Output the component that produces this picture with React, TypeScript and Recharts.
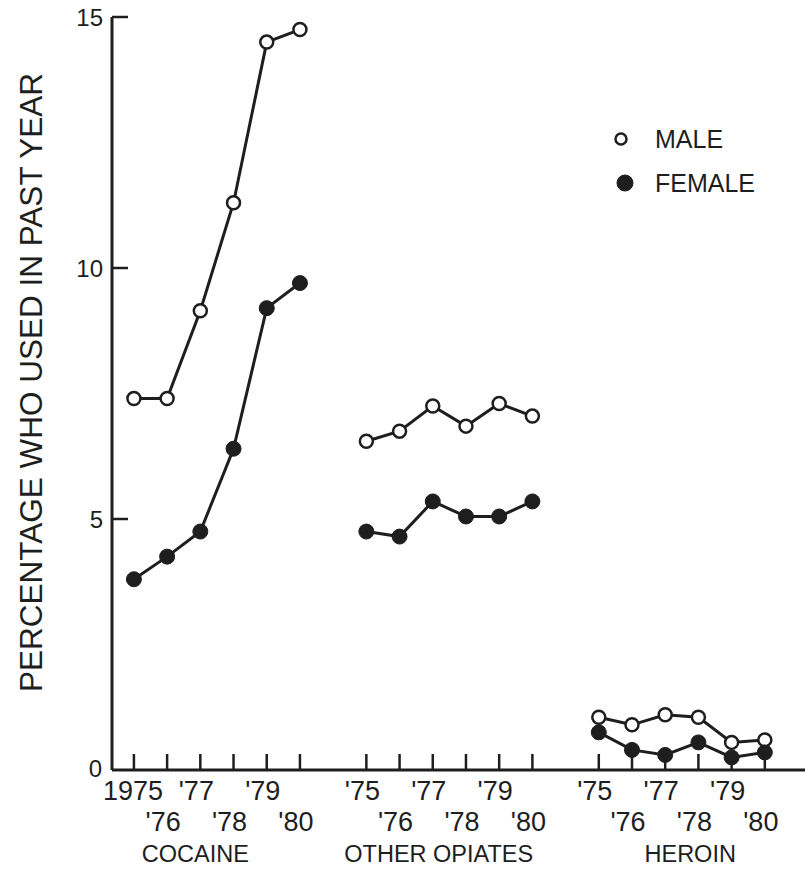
import React from 'react';
import { LineChart, Line, XAxis, YAxis, Legend } from 'recharts';

// years per drug group, the first group's first label is written in full
const yearLabels = ["'75", "'76", "'77", "'78", "'79", "'80"];
const firstYearLabel = '1975';
const groupNames = ['COCAINE', 'OTHER OPIATES', 'HEROIN'];
const yTicks = [0, 5, 10, 15];

// percentage who used in past year, 1975-1980
const maleCocaine = [7.4, 7.4, 9.15, 11.3, 14.5, 14.75];
const femaleCocaine = [3.8, 4.25, 4.75, 6.4, 9.2, 9.7];
const maleOpiates = [6.55, 6.75, 7.25, 6.85, 7.3, 7.05];
const femaleOpiates = [4.75, 4.65, 5.35, 5.05, 5.05, 5.35];
const maleHeroin = [1.05, 0.9, 1.1, 1.05, 0.55, 0.6];
const femaleHeroin = [0.75, 0.4, 0.3, 0.55, 0.25, 0.35];

const legendItems = [
  { label: 'MALE', filled: false },
  { label: 'FEMALE', filled: true },
];

const INK = '#1e1e1e';
const FONT = '"Liberation Sans", Arial, sans-serif';
const GROUP_STEP = 7; // six years plus a gap of one slot
const groupLabelShift = [-5, 6, 25];

const toRows = (values: number[], group: number) =>
  values.map((v, i) => ({ x: group * GROUP_STEP + i, v }));

const series = [
  { key: 'cocM', group: 0, values: maleCocaine, filled: false },
  { key: 'cocF', group: 0, values: femaleCocaine, filled: true },
  { key: 'opM', group: 1, values: maleOpiates, filled: false },
  { key: 'opF', group: 1, values: femaleOpiates, filled: true },
  { key: 'herM', group: 2, values: maleHeroin, filled: false },
  { key: 'herF', group: 2, values: femaleHeroin, filled: true },
];

const xTicks = groupNames.flatMap((_, g) => yearLabels.map((_, i) => g * GROUP_STEP + i));

const XTick = (props: any) => {
  const { x, y, payload } = props;
  const v = payload.value as number;
  const g = Math.floor(v / GROUP_STEP);
  const i = v % GROUP_STEP;
  const first = g === 0 && i === 0;
  const label = first ? firstYearLabel : yearLabels[i];
  return (
    <g>
      <line x1={x} x2={x} y1={y} y2={y - 16} stroke={INK} strokeWidth={2.5} />
      <text
        x={first ? x - 1 : x - 4}
        y={i % 2 === 0 ? y + 30 : y + 61}
        textAnchor="middle"
        fontSize={27}
        fontFamily={FONT}
        fill={INK}
      >
        {label}
      </text>
      {i === 2 && (
        <text
          x={x + groupLabelShift[g]}
          y={y + 92}
          textAnchor="middle"
          fontSize={23.5}
          fontFamily={FONT}
          fill={INK}
        >
          {groupNames[g]}
        </text>
      )}
    </g>
  );
};

const YTick = (props: any) => {
  const { x, y, payload } = props;
  const isZero = payload.value === 0;
  return (
    <g>
      {!isZero && <line x1={x} x2={x + 16} y1={y} y2={y} stroke={INK} strokeWidth={2.5} />}
      <text
        x={isZero ? x - 10 : x - 9}
        y={isZero ? y + 6.6 : y + 8.6}
        textAnchor="end"
        fontSize={24}
        fontFamily={FONT}
        fill={INK}
      >
        {payload.value}
      </text>
    </g>
  );
};

const YTitle = (props: any) => {
  const vb = props.viewBox || { x: 0, y: 17, width: 112, height: 753 };
  const cx = vb.x + 42;
  const cy = vb.y + vb.height / 2 - 11;
  return (
    <text
      x={cx}
      y={cy}
      transform={`rotate(-90 ${cx} ${cy})`}
      textAnchor="middle"
      fontSize={31.5}
      fontFamily={FONT}
      fill={INK}
    >
      PERCENTAGE WHO USED IN PAST YEAR
    </text>
  );
};

const LegendBox = () => (
  <div style={{ fontFamily: FONT, fontSize: 25, color: INK, lineHeight: '44px' }}>
    {legendItems.map((item) => (
      <div key={item.label} style={{ display: 'flex', alignItems: 'center' }}>
        <svg width={34} height={20} style={{ marginRight: 17 }}>
          <circle
            cx={item.filled ? 21 : 17}
            cy={10}
            r={item.filled ? 8 : 5.5}
            fill={item.filled ? INK : '#fff'}
            stroke={INK}
            strokeWidth={item.filled ? 1 : 2.5}
          />
        </svg>
        <span>{item.label}</span>
      </div>
    ))}
  </div>
);

export default function App() {
  return (
    <div style={{ position: 'absolute', left: 0, top: 0, background: '#fff' }}>
      <LineChart width={805} height={879} margin={{ top: 17, right: 0, bottom: 0, left: 0 }}>
        <XAxis
          type="number"
          dataKey="x"
          domain={[-0.66, 20.21]}
          ticks={xTicks}
          interval={0}
          height={109}
          tickSize={0}
          tickMargin={0}
          tickLine={false}
          tick={<XTick />}
          axisLine={{ stroke: INK, strokeWidth: 3 }}
        />
        <YAxis
          type="number"
          domain={[0, 15]}
          ticks={yTicks}
          width={112}
          tickSize={0}
          tickMargin={0}
          tickLine={false}
          tick={<YTick />}
          axisLine={{ stroke: INK, strokeWidth: 3 }}
          label={{ content: <YTitle /> } as any}
        />
        <Legend
          layout="horizontal"
          verticalAlign="middle"
          align="center"
          content={<LegendBox />}
          wrapperStyle={{ position: 'absolute', left: 604, top: 117, width: 200 }}
        />
        {series.map((s) => (
          <Line
            key={s.key}
            data={toRows(s.values, s.group)}
            dataKey="v"
            type="linear"
            stroke={INK}
            strokeWidth={3}
            dot={
              s.filled
                ? { r: 7.5, fill: INK, stroke: INK, strokeWidth: 1 }
                : { r: 6.5, fill: '#fff', stroke: INK, strokeWidth: 2.5 }
            }
            activeDot={false}
            legendType="none"
            isAnimationActive={false}
          />
        ))}
      </LineChart>
    </div>
  );
}
